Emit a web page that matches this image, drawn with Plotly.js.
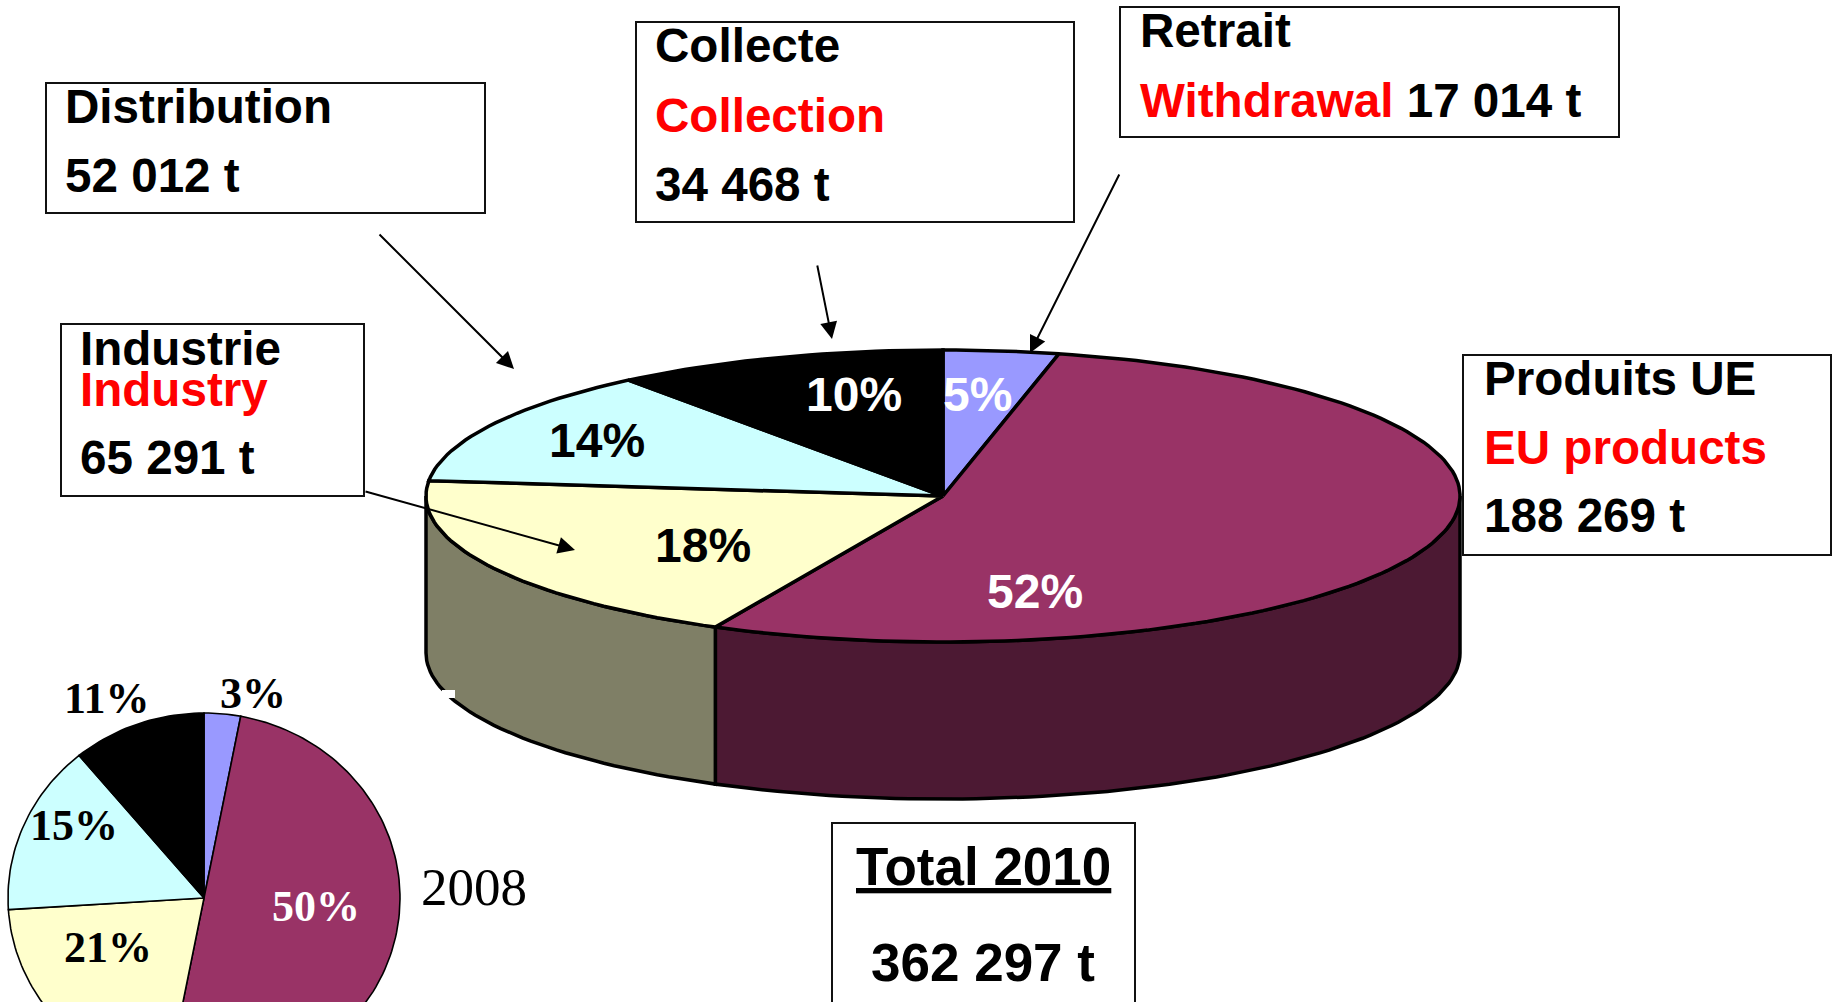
<!DOCTYPE html>
<html>
<head>
<meta charset="utf-8">
<script src="https://cdn.plot.ly/plotly-3.0.1.min.js"></script>
<style>html,body{margin:0;padding:0;background:#fff;overflow:hidden}</style>
</head>
<body>
<div id="chart" style="width:1835px;height:1002px"></div>
<script>
// Data
const categories = ["Retrait", "Produits UE", "Industrie", "Distribution", "Collecte"];
const colors = ["#9999FF", "#993366", "#FFFFCC", "#CCFFFF", "#000000"];
const wallColors = ["#4C1933", "#4C1933", "#7F7F66"];
const shares2010 = [3.6, 53.6, 19.4, 12.9, 10.4];   // slice sizes as drawn
const shares2008 = [3, 50, 21, 15, 11];
const labels2010 = ["5%", "52%", "18%", "14%", "10%"];
const labels2008 = ["3%", "50%", "21%", "15%", "11%"];

const W = 1835, H = 1002;
const SANS = "Liberation Sans, Arial, sans-serif";
const SERIF = "Liberation Serif, Times New Roman, serif";

function pt(p, deg, dy) {
  const a = deg * Math.PI / 180;
  return [p.cx + p.rx * Math.sin(a), p.cy - p.ry * Math.cos(a) + (dy || 0)];
}
function arc(p, from, to, dy) {
  const n = Math.max(2, Math.ceil(Math.abs(to - from) / 1.5));
  const out = [];
  for (let i = 0; i <= n; i++) out.push(pt(p, from + (to - from) * i / n, dy));
  return out;
}
function polyTrace(points, fill, name, lw) {
  return {
    type: "scatter", mode: "lines", name: name, showlegend: false, hoverinfo: "name",
    x: points.map(q => q[0]), y: points.map(q => q[1]),
    fill: "toself", fillcolor: fill,
    line: {color: "#000", width: lw, shape: "linear"}
  };
}
function pieTraces(p, shares, lw) {
  const total = shares.reduce((a, b) => a + b, 0);
  let start = 0; const out = [];
  shares.forEach((s, i) => {
    const end = start + s / total * 360;
    const pts = [[p.cx, p.cy]].concat(arc(p, start, end)).concat([[p.cx, p.cy]]);
    out.push(polyTrace(pts, colors[i], categories[i], lw));
    start = end;
  });
  return out;
}

const big = {cx: 943, cy: 496, rx: 517, ry: 146, depth: 157};
const small = {cx: 204, cy: 898, rx: 196, ry: 185};

// walls of the big pie, visible between 90 deg and 270 deg
const sum2010 = shares2010.reduce((a, b) => a + b, 0);
const euEnd = (shares2010[0] + shares2010[1]) / sum2010 * 360;
function wall(from, to, color, name) {
  const pts = arc(big, from, to, 0).concat(arc(big, to, from, big.depth));
  pts.push(pts[0]);
  return polyTrace(pts, color, name, 3.5);
}

const traces = [
  wall(90, euEnd, wallColors[1], categories[1]),
  wall(euEnd, 270, wallColors[2], categories[2])
].concat(pieTraces(big, shares2010, 3.5)).concat(pieTraces(small, shares2008, 1.6));

function text(x, y, t, size, color, opts) {
  opts = opts || {};
  return {
    x: x, y: y, xref: "x", yref: "y", text: t, showarrow: false,
    xanchor: opts.anchor || "left", yanchor: "middle", align: opts.anchor === "center" ? "center" : "left",
    font: {family: opts.family || SANS, size: size, color: color, weight: opts.weight || 700}
  };
}
function arrow(x0, y0, x1, y1) {
  return {
    x: x1, y: y1, ax: x0, ay: y0, xref: "x", yref: "y", axref: "x", ayref: "y", text: "",
    showarrow: true, arrowhead: 2, arrowsize: 1.7, arrowwidth: 2, arrowcolor: "#000", standoff: 0
  };
}
function box(x0, y0, x1, y1) {
  return {type: "rect", xref: "x", yref: "y", x0: x0, y0: y0, x1: x1, y1: y1,
    line: {color: "#111", width: 2}, fillcolor: "rgba(0,0,0,0)", layer: "below"};
}

const RED = "#FF0000", BLK = "#000000", WHT = "#FFFFFF";
const TS = 47.6;
const annotations = [
  text(63, 106, "Distribution", TS, BLK),
  text(63, 175, "52 012 t", TS, BLK),
  text(653, 45, "Collecte", TS, BLK),
  text(653, 115, "Collection", TS, RED),
  text(653, 184, "34 468 t", TS, BLK),
  text(1138, 30, "Retrait", TS, BLK),
  text(1138, 100, '<span style="color:#FF0000">Withdrawal</span> 17 014 t', TS, BLK),
  text(78, 348, "Industrie", TS, BLK),
  text(78, 389, "Industry", TS, RED),
  text(78, 457, "65 291 t", TS, BLK),
  text(1482, 378, "Produits UE", TS, BLK),
  text(1482, 447, "EU products", TS, RED),
  text(1482, 515, "188 269 t", TS, BLK),
  text(983, 866, "<u>Total 2010</u>", 53, BLK, {anchor: "center"}),
  text(983, 962, "362 297 t", 53, BLK, {anchor: "center"}),

  text(977, 394, labels2010[0], 48, WHT, {anchor: "center"}),
  text(1035, 591, labels2010[1], 48, WHT, {anchor: "center"}),
  text(703, 545, labels2010[2], 48, BLK, {anchor: "center"}),
  text(597, 440, labels2010[3], 48, BLK, {anchor: "center"}),
  text(854, 394, labels2010[4], 48, WHT, {anchor: "center"}),

  text(253, 693, labels2008[0], 44, BLK, {anchor: "center", family: SERIF}),
  text(316, 906, labels2008[1], 44, WHT, {anchor: "center", family: SERIF}),
  text(108, 947, labels2008[2], 44, BLK, {anchor: "center", family: SERIF}),
  text(74, 825, labels2008[3], 44, BLK, {anchor: "center", family: SERIF}),
  text(107, 698, labels2008[4], 44, BLK, {anchor: "center", family: SERIF}),
  text(474, 887, "2008", 53, BLK, {anchor: "center", family: SERIF, weight: 400}),

  arrow(378, 233, 514, 369),
  arrow(817, 264, 832, 339),
  arrow(1120, 173, 1030, 353),
  arrow(364, 491, 575, 550)
];

const shapes = [
  box(46, 83, 485, 213),
  box(61, 324, 364, 496),
  box(636, 22, 1074, 222),
  box(1120, 7, 1619, 137),
  box(1463, 355, 1831, 555),
  box(832, 823, 1135, 1012),
  {type: "rect", xref: "x", yref: "y", x0: 442, x1: 455, y0: 690, y1: 698,
   line: {width: 0}, fillcolor: "#FFFFFF", layer: "above"}
];

const hidden = {visible: false, showgrid: false, zeroline: false, fixedrange: true};
Plotly.newPlot("chart", traces, {
  width: W, height: H,
  margin: {l: 0, r: 0, t: 0, b: 0},
  paper_bgcolor: "#FFFFFF", plot_bgcolor: "#FFFFFF",
  showlegend: false,
  xaxis: Object.assign({range: [0, W]}, hidden),
  yaxis: Object.assign({range: [H, 0]}, hidden),
  shapes: shapes,
  annotations: annotations
}, {staticPlot: true, displayModeBar: false});
</script>
</body>
</html>
